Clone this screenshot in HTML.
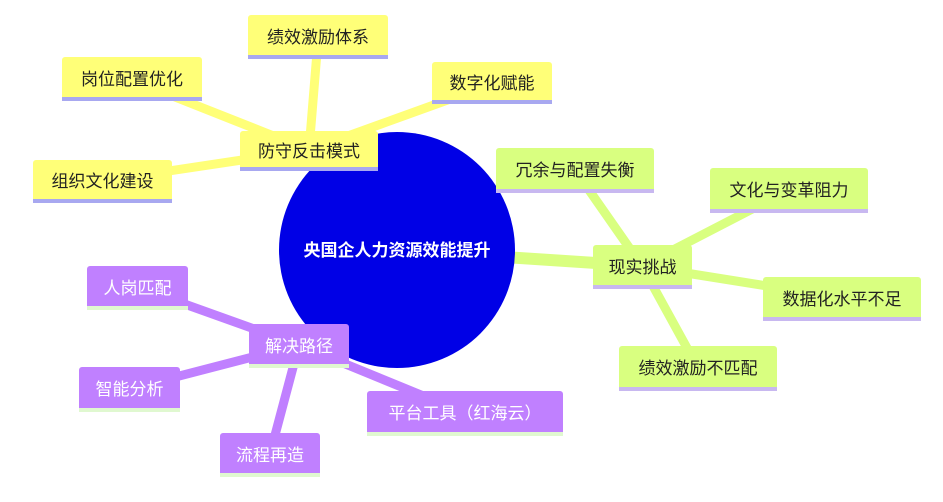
<!DOCTYPE html>
<html><head><meta charset="utf-8"><style>
body{margin:0;width:943px;height:502px;background:#fff;position:relative;overflow:hidden;font-family:"Liberation Sans","Noto Sans CJK SC",sans-serif}
.n{position:absolute;box-sizing:border-box;display:flex;align-items:center;justify-content:center;font-size:17px;border-radius:3px 3px 0 0;border-bottom:4px solid #a8a8f0;color:#222}
.y{background:#ffff78}
.g{background:#d9ff80;border-bottom-color:#c8b8f0}
.p{background:#c080ff;color:#fff;border-bottom-color:#e0f8d0}
</style></head><body>
<svg width="943" height="502" style="position:absolute;left:0;top:0">
<g stroke-linecap="round">
<line x1="397" y1="250" x2="309" y2="150" stroke="#ffff78" stroke-width="12"/>
<line x1="397" y1="250" x2="642" y2="266" stroke="#d9ff80" stroke-width="12"/>
<line x1="397" y1="250" x2="299" y2="345" stroke="#c080ff" stroke-width="12"/>
<g stroke="#ffff78" stroke-width="9">
<line x1="309" y1="150" x2="318" y2="40"/><line x1="309" y1="150" x2="132" y2="80"/>
<line x1="309" y1="150" x2="492" y2="84"/><line x1="309" y1="150" x2="102" y2="181"/></g>
<g stroke="#d9ff80" stroke-width="9">
<line x1="642" y1="266" x2="575" y2="170"/><line x1="642" y1="266" x2="789" y2="190"/>
<line x1="642" y1="266" x2="842" y2="298"/><line x1="642" y1="266" x2="698" y2="368"/></g>
<g stroke="#c080ff" stroke-width="9">
<line x1="299" y1="345" x2="137" y2="287"/><line x1="299" y1="345" x2="129" y2="389"/>
<line x1="299" y1="345" x2="465" y2="413"/><line x1="299" y1="345" x2="270" y2="454"/></g>
</g>
<circle cx="397" cy="250" r="118" fill="#0000e6"/>
<text x="397" y="256" fill="#fff" font-size="17" font-weight="bold" text-anchor="middle" font-family="Liberation Sans, Noto Sans CJK SC, sans-serif">央国企人力资源效能提升</text>
</svg>
<div class="n y" style="left:240px;top:131px;width:138px;height:40px">防守反击模式</div>
<div class="n y" style="left:248px;top:15px;width:140px;height:44px">绩效激励体系</div>
<div class="n y" style="left:62px;top:57px;width:140px;height:44px">岗位配置优化</div>
<div class="n y" style="left:432px;top:62px;width:120px;height:42px">数字化赋能</div>
<div class="n y" style="left:33px;top:160px;width:139px;height:43px">组织文化建设</div>
<div class="n g" style="left:593px;top:245px;width:99px;height:44px">现实挑战</div>
<div class="n g" style="left:496px;top:148px;width:158px;height:45px">冗余与配置失衡</div>
<div class="n g" style="left:710px;top:168px;width:158px;height:45px">文化与变革阻力</div>
<div class="n g" style="left:763px;top:277px;width:158px;height:44px">数据化水平不足</div>
<div class="n g" style="left:619px;top:346px;width:158px;height:45px">绩效激励不匹配</div>
<div class="n p" style="left:249px;top:324px;width:100px;height:44px">解决路径</div>
<div class="n p" style="left:87px;top:266px;width:101px;height:44px">人岗匹配</div>
<div class="n p" style="left:79px;top:367px;width:101px;height:45px">智能分析</div>
<div class="n p" style="left:367px;top:391px;width:196px;height:45px">平台工具（红海云）</div>
<div class="n p" style="left:220px;top:433px;width:100px;height:44px">流程再造</div>
</body></html>
